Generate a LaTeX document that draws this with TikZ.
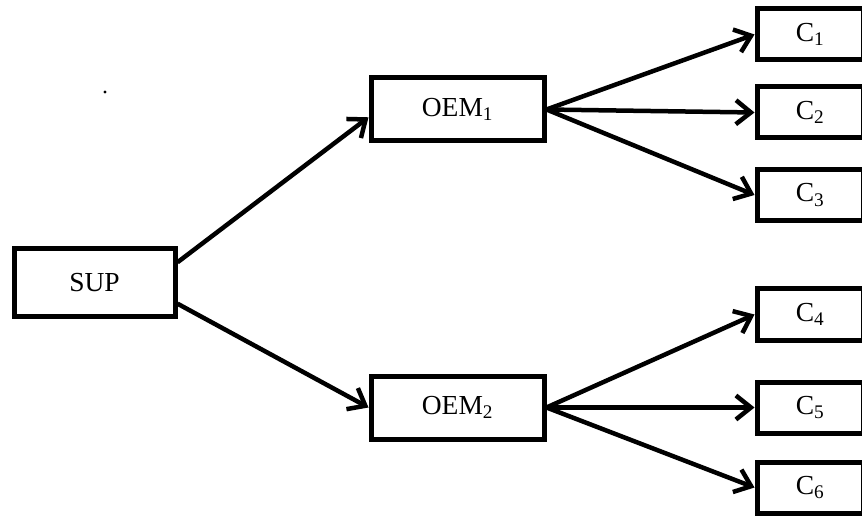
\documentclass[tikz,border=0pt]{standalone}
\usepackage{fontspec}
\setmainfont{Liberation Serif}
\usetikzlibrary{arrows.meta, positioning}

\begin{document}
\begin{tikzpicture}[x=1pt, y=1pt, every node/.style={font=\fontsize{27.5}{32}\selectfont},
        block/.style={draw, line width=5pt, fill=white},
        link/.style={->, line width=4.5pt},
        >={Straight Barb[length=15pt, width=24pt]}]
        \useasboundingbox (0,0) rectangle (862,520);
        % Supplier
        \node[block, minimum width=161pt, minimum height=68pt] (sup) at (94.5,237) {SUP};
        % OEMs
        \node[block, minimum width=173pt, minimum height=63pt, right=191pt of sup, yshift=173.5pt] (oem1) {OEM\textsubscript{1}};
        \node[block, minimum width=173pt, minimum height=63pt, right=191pt of sup, yshift=-124.5pt] (oem2) {OEM\textsubscript{2}};
        \draw[link] (sup.14) -- (oem1.185);
        \draw[link] (sup.-14) -- (oem2.west);
        % Customers
        \foreach \i/\dy in {1/75, 2/-3, 3/-85.5} {
            \node[block, minimum width=106pt, minimum height=51pt, right=208pt of oem1, yshift=\dy pt] (c\i) {C\textsubscript{\i}};
            \draw[link] (oem1.east) -- (c\i.west);
        }
        \foreach \i/\dy in {4/93, 5/0, 6/-80} {
            \node[block, minimum width=106pt, minimum height=51pt, right=208pt of oem2, yshift=\dy pt] (c\i) {C\textsubscript{\i}};
            \draw[link] (oem2.east) -- (c\i.west);
        }
        % stray dot
        \fill (105,428) circle (1.6pt);
    \end{tikzpicture}
\end{document}
